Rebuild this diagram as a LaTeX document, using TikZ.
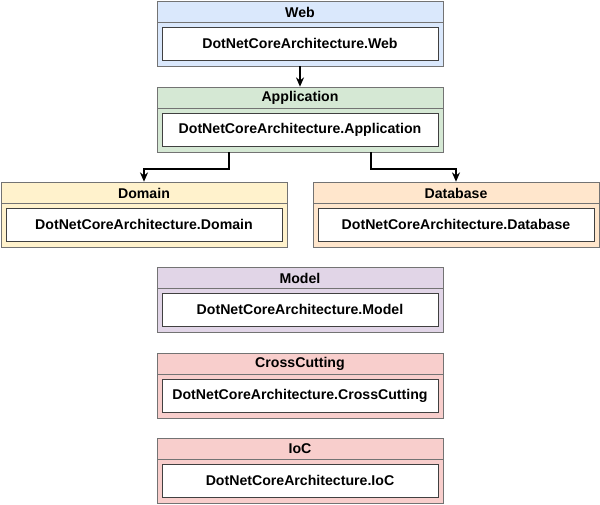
\documentclass[tikz,border=0pt]{standalone}
\usepackage{fontspec}
\setmainfont{Liberation Sans}
\usetikzlibrary{arrows.meta,shadows}
\definecolor{webfill}{HTML}{DAE8FC}
\definecolor{appfill}{HTML}{D5E8D4}
\definecolor{domfill}{HTML}{FFF2CC}
\definecolor{dbfill}{HTML}{FFE6CC}
\definecolor{modfill}{HTML}{E1D5E7}
\definecolor{xcfill}{HTML}{F8CECC}
\begin{document}
\begin{tikzpicture}[x=0.75pt, y=-0.75pt,
    capa/.style={draw=black!55, minimum width=214.5pt, minimum height=48.75pt, inner sep=0pt,
        drop shadow={shadow xshift=1pt, shadow yshift=-1pt, opacity=.25}},
    titulo/.style={font=\bfseries\fontsize{10.6}{12}\selectfont},
    proyecto/.style={draw=black!75, fill=white, minimum width=207pt, minimum height=24.75pt, inner sep=0pt,
        font=\bfseries\fontsize{10.6}{12}\selectfont,
        drop shadow={shadow xshift=1pt, shadow yshift=-1pt, opacity=.25}},
    dep/.style={-{Stealth[length=7pt, width=6pt]}, line width=1.3pt}]
    % Fondo
    \path[use as bounding box, fill=white] (0,0) rectangle (600,504);

    % Capas
    \foreach \name/\cx/\t/\col/\title in {web/300/1/webfill/Web, app/300/87/appfill/Application,
        domain/144/182/domfill/Domain, database/456/182/dbfill/Database,
        model/300/267/modfill/Model, crosscutting/300/353/xcfill/CrossCutting, ioc/300/438/xcfill/IoC}{
        \node[capa, fill=\col] (\name) at (\cx,\t+32.5) {};
        \draw[black!55] (\cx-143,\t+21) -- (\cx+143,\t+21);
        \node[titulo] (\name-titulo) at (\cx,\t+11) {\title};
        \node[proyecto] (\name-proyecto) at (\cx,\t+42.5) {DotNetCoreArchitecture.\title};
    }

    % Dependencias
    \draw[dep] (web) -- (app);
    \draw[dep] ([xshift=-53pt]app.south) -- ++(0,17) -| (domain);
    \draw[dep] ([xshift=53pt]app.south) -- ++(0,17) -| (database);
\end{tikzpicture}
\end{document}
